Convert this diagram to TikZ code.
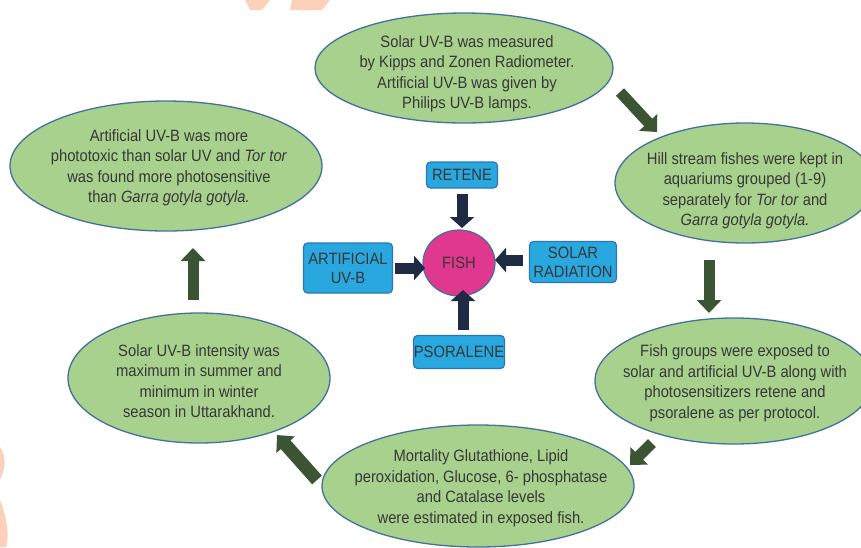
\documentclass[tikz,border=0pt]{standalone}
\usepackage{fontspec}
\setmainfont{Liberation Sans}[FakeStretch=0.9]
\usetikzlibrary{shapes.geometric,arrows.meta}
\definecolor{ellfill}{RGB}{169,209,142}
\definecolor{elldraw}{RGB}{65,113,156}
\definecolor{txtcol}{RGB}{55,55,55}
\definecolor{garrowc}{RGB}{59,85,52}
\definecolor{narrowc}{RGB}{31,43,68}
\definecolor{boxfill}{RGB}{41,168,224}
\definecolor{boxdraw}{RGB}{46,117,182}
\definecolor{fishfill}{RGB}{224,56,143}
\definecolor{wmark}{RGB}{253,208,185}
\tikzset{
  ell/.style={ellipse, fill=ellfill, draw=elldraw, line width=1.3pt, inner sep=0pt},
  etxt/.style={align=center, text=txtcol, font=\fontsize{16.4}{20.5}\selectfont, inner sep=0pt},
  bbox/.style={rectangle, rounded corners=4pt, fill=boxfill, draw=boxdraw, line width=1.2pt, inner sep=0pt,
    align=center, text=txtcol, font=\fontsize{16.4}{19}\selectfont},
  garrow/.style={draw=garrowc, line width=11pt, -{Triangle[width=24pt 0, length=13pt 0]}, garrowc},
  narrow/.style={draw=narrowc, line width=11pt, -{Triangle[width=24pt 0, length=11pt 0]}, narrowc}
}
\begin{document}
\begin{tikzpicture}[x=1pt,y=-1pt]
\useasboundingbox (0,0) rectangle (861,547);
\clip (0,0) rectangle (861,547);
% watermark fragments
\fill[wmark] (245,0) -- (270,0) -- (262,10) -- (250,10) -- cycle;
\fill[wmark] (292,0) -- (330,0) -- (322,10) -- (290,10) -- cycle;
\fill[wmark] (0,447) .. controls (8,460) and (4,470) .. (0,480) -- cycle;
\fill[wmark] (0,500) .. controls (6,515) and (10,535) .. (6,547) -- (0,547) -- cycle;

% ellipses
\node[ell, minimum width=298pt, minimum height=110pt] (e1) at (464,68) {};
\node[etxt] (t1) at (467,74) {Solar UV-B was measured\\by Kipps and Zonen Radiometer.\\Artificial UV-B was given by\\Philips UV-B lamps.};

\node[ell, minimum width=260pt, minimum height=120pt] (e2) at (745,183) {};
\node[etxt] (t2) at (745,191) {Hill stream fishes were kept in\\aquariums grouped (1-9)\\separately for \textit{Tor tor} and\\\textit{Garra gotyla gotyla.}};

\node[ell, minimum width=278pt, minimum height=126pt] (e3) at (734,381) {};
\node[etxt] (t3) at (735,383) {Fish groups were exposed to\\solar and artificial UV-B along with\\photosensitizers retene and\\psoralene as per protocol.};

\node[ell, minimum width=312pt, minimum height=122pt] (e4) at (478,486) {};
\node[etxt] (t4) at (481,488) {Mortality Glutathione, Lipid\\peroxidation, Glucose, 6- phosphatase\\and Catalase levels\\were estimated in exposed fish.};

\node[ell, minimum width=262pt, minimum height=130pt] (e5) at (199,378) {};
\node[etxt] (t5) at (199,381) {Solar UV-B intensity was\\maximum in summer and\\minimum in winter\\season in Uttarakhand.};

\node[ell, minimum width=312pt, minimum height=130pt] (e6) at (166,166) {};
\node[etxt] (t6) at (169,168) {Artificial UV-B was more\\phototoxic than solar UV and \textit{Tor tor}\\was found more photosensitive\\than \textit{Garra gotyla gotyla.}};

% green arrow endpoints
\coordinate (g1s) at (620,92);
\coordinate (g1e) at (657,132);
\coordinate (g2s) at (709,260);
\coordinate (g2e) at (709,313);
\coordinate (g3s) at (652,443);
\coordinate (g3e) at (630,465);
\coordinate (g4s) at (317,480);
\coordinate (g4e) at (277,435);
\coordinate (g5s) at (193,300);
\coordinate (g5e) at (193,248);
\draw[garrow] (g1s) -- (g1e);
\draw[garrow] (g2s) -- (g2e);
\draw[garrow] (g3s) -- (g3e);
\draw[garrow, line width=13pt] (g4s) -- (g4e);
\draw[garrow] (g5s) -- (g5e);

% centre
\node[ellipse, fill=fishfill, draw=elldraw, line width=1.2pt, minimum width=72pt, minimum height=66pt, inner sep=0pt,
  text=txtcol, font=\fontsize{16.4}{19}\selectfont] (fish) at (459,263) {FISH};
\node[bbox, minimum width=71pt, minimum height=26pt] (ret) at (462,175) {RETENE};
\node[bbox, minimum width=89pt, minimum height=50pt] (art) at (348,268) {ARTIFICIAL\\UV-B};
\node[bbox, minimum width=87pt, minimum height=41pt] (sol) at (573,262) {SOLAR\\RADIATION};
\node[bbox, minimum width=91pt, minimum height=33pt] (pso) at (459,352) {PSORALENE};

\draw[narrow] (ret.south -| 462,0) ++(0,5) coordinate (n1s) -- (462,228) coordinate (n1e);
\draw[narrow] (art.east) ++(2,0) coordinate (n2s) -- (425,268) coordinate (n2e);
\draw[narrow] (sol.west) ++(-6,-2) coordinate (n3s) -- (495,260) coordinate (n3e);
\draw[narrow] (pso.north) ++(4,-5) coordinate (n4s) -- (463,290) coordinate (n4e);
\end{tikzpicture}
\end{document}
